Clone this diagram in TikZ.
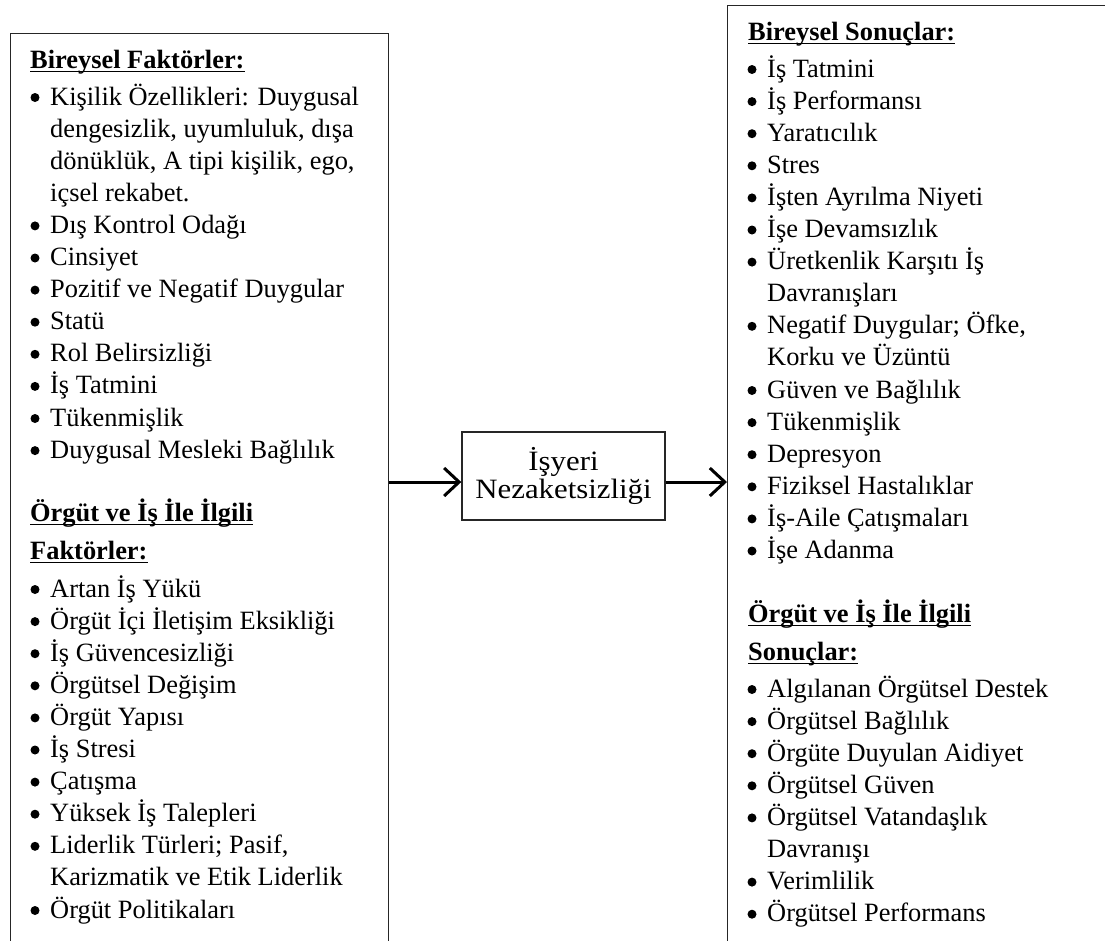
\documentclass[tikz,border=0pt]{standalone}
\usepackage{fontspec}
\setmainfont{Liberation Serif}
\newfontfamily\widefont[FakeStretch=1.1]{Liberation Serif}
\usetikzlibrary{arrows.meta}

\tikzset{
  box/.style={draw=black!85, line width=1.4pt, fill=white, inner sep=0pt},
  txt/.style={anchor=base west, inner sep=0pt, font=\fontsize{26.4}{32}\selectfont},
  head/.style={txt, font=\fontsize{26.4}{32}\selectfont\bfseries},
  flow/.style={line width=3pt, -{Straight Barb[length=15pt,width=28pt,line width=3pt]}},
  ul/.style={line width=1.8pt},
}

% one bulleted line, one continuation line, one underlined heading line
\newcommand\blt[4]{%
  \node[txt] (#1) at (#2,#3) {#4};
  \fill ([xshift=-15pt,yshift=7.5pt]#1.base west) circle (4.5pt);}
\newcommand\cnt[4]{\node[txt] (#1) at (#2,#3) {#4};}
\newcommand\hdl[4]{%
  \node[head] (#1) at (#2,#3) {#4};
  \draw[ul] ([yshift=-3.5pt]#1.base west) -- ([yshift=-3.5pt]#1.base east);}

\begin{document}
\begin{tikzpicture}[x=1pt,y=-1pt]
\useasboundingbox (0,0) rectangle (1105,940);
\clip (0,0) rectangle (1105,940);
\fill[white] (0,0) rectangle (1105,940);

% the three boxes
\node[box, anchor=north west, minimum width=378pt, minimum height=960pt] (lbox) at (10,33) {};
\node[box, anchor=north west, minimum width=420pt, minimum height=990pt] (rbox) at (727,5) {};
\node[box, minimum width=203pt, minimum height=88pt, align=center,
      font=\fontsize{28}{28}\widefont] (mid) at (563.5,476)
      {İşyeri\\[-0.5pt]Nezaketsizliği};

% connectors
\coordinate (lev) at (0,482);
\draw[flow] (lbox.east |- lev) -- (mid.west |- lev);
\draw[flow] (mid.east |- lev) -- (rbox.west |- lev);

% causes
\hdl{lh1}{30}{68}{Bireysel Faktörler:}
\blt{l1}{50}{105}{Kişilik Özellikleri: Duygusal}
\cnt{l2}{50}{137.1}{dengesizlik, uyumluluk, dışa}
\cnt{l3}{50}{169.2}{dönüklük, A tipi kişilik, ego,}
\cnt{l4}{50}{201.3}{içsel rekabet.}
\blt{l5}{50}{233.4}{Dış Kontrol Odağı}
\blt{l6}{50}{265.5}{Cinsiyet}
\blt{l7}{50}{297.6}{Pozitif ve Negatif Duygular}
\blt{l8}{50}{329.7}{Statü}
\blt{l9}{50}{361.8}{Rol Belirsizliği}
\blt{l10}{50}{393.9}{İş Tatmini}
\blt{l11}{50}{426}{Tükenmişlik}
\blt{l12}{50}{458.1}{Duygusal Mesleki Bağlılık}
\hdl{lh2}{30}{521}{Örgüt ve İş İle İlgili}
\hdl{lh3}{30}{559}{Faktörler:}
\blt{l13}{50}{597}{Artan İş Yükü}
\blt{l14}{50}{629.1}{Örgüt İçi İletişim Eksikliği}
\blt{l15}{50}{661.2}{İş Güvencesizliği}
\blt{l16}{50}{693.3}{Örgütsel Değişim}
\blt{l17}{50}{725.4}{Örgüt Yapısı}
\blt{l18}{50}{757.5}{İş Stresi}
\blt{l19}{50}{789.6}{Çatışma}
\blt{l20}{50}{821.7}{Yüksek İş Talepleri}
\blt{l21}{50}{853.8}{Liderlik Türleri; Pasif,}
\cnt{l22}{50}{885.9}{Karizmatik ve Etik Liderlik}
\blt{l23}{50}{918}{Örgüt Politikaları}

% outcomes
\hdl{rh1}{748}{40}{Bireysel Sonuçlar:}
\blt{r1}{767}{77}{İş Tatmini}
\blt{r2}{767}{109.1}{İş Performansı}
\blt{r3}{767}{141.2}{Yaratıcılık}
\blt{r4}{767}{173.3}{Stres}
\blt{r5}{767}{205.4}{İşten Ayrılma Niyeti}
\blt{r6}{767}{237.5}{İşe Devamsızlık}
\blt{r7}{767}{269.6}{Üretkenlik Karşıtı İş}
\cnt{r8}{767}{301.7}{Davranışları}
\blt{r9}{767}{333.8}{Negatif Duygular; Öfke,}
\cnt{r10}{767}{365.9}{Korku ve Üzüntü}
\blt{r11}{767}{398}{Güven ve Bağlılık}
\blt{r12}{767}{430.1}{Tükenmişlik}
\blt{r13}{767}{462.2}{Depresyon}
\blt{r14}{767}{494.3}{Fiziksel Hastalıklar}
\blt{r15}{767}{526.4}{İş-Aile Çatışmaları}
\blt{r16}{767}{558.5}{İşe Adanma}
\hdl{rh2}{748}{622}{Örgüt ve İş İle İlgili}
\hdl{rh3}{748}{660}{Sonuçlar:}
\blt{r17}{767}{697}{Algılanan Örgütsel Destek}
\blt{r18}{767}{729.1}{Örgütsel Bağlılık}
\blt{r19}{767}{761.2}{Örgüte Duyulan Aidiyet}
\blt{r20}{767}{793.3}{Örgütsel Güven}
\blt{r21}{767}{825.4}{Örgütsel Vatandaşlık}
\cnt{r22}{767}{857.5}{Davranışı}
\blt{r23}{767}{889.6}{Verimlilik}
\blt{r24}{767}{921.7}{Örgütsel Performans}
\end{tikzpicture}
\end{document}
